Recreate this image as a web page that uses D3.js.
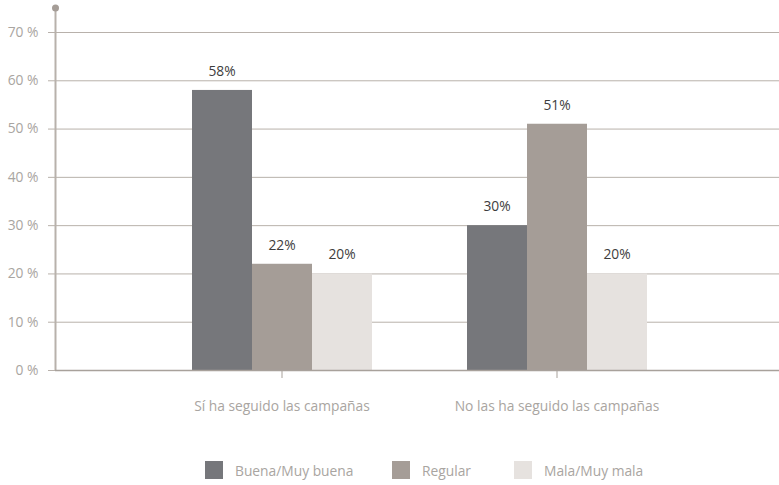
<!DOCTYPE html>
<html><head><meta charset="utf-8">
<script src="https://cdn.jsdelivr.net/npm/d3@7"></script>
<style>body{margin:0;background:#fff}svg{display:block}text{font-family:"Open Sans",sans-serif}</style>
</head><body><svg id="c" width="779" height="485"></svg>
<script>
const categories = ["Sí ha seguido las campañas", "No las ha seguido las campañas"];
const seriesNames = ["Buena/Muy buena", "Regular", "Mala/Muy mala"];
const buena = [58, 30];
const regular = [22, 51];
const mala = [20, 20];
const yTicks = [0, 10, 20, 30, 40, 50, 60, 70];
const colors = ["#76777b", "#a59d97", "#e6e2df"];
const series = [buena, regular, mala];

const svg = d3.select("#c");
const y = d3.scaleLinear().domain([0, 70]).range([370, 32]);
const x = d3.scaleBand().domain(categories).range([144.5, 694.5]);
const xs = d3.scaleBand().domain(seriesNames).range([0, 180]);
const gridColor = "#b8b1ab";
const fs = 13.8;

svg.append("g").selectAll("line").data(yTicks).join("line")
  .attr("x1", 48).attr("x2", 779).attr("y1", d => y(d) + 0.5).attr("y2", d => y(d) + 0.5)
  .attr("stroke", gridColor).attr("stroke-width", 1);
svg.append("g").selectAll("text").data(yTicks).join("text")
  .attr("x", 38.5).attr("y", d => y(d)).attr("dy", "0.35em").attr("text-anchor", "end")
  .attr("font-size", fs).attr("fill", "#a9a5a1").text(d => d + " %");

categories.forEach((c, ci) => {
  const g = svg.append("g").attr("transform", `translate(${x(c) + x.bandwidth() / 2 - 90},0)`);
  seriesNames.forEach((s, si) => {
    const v = series[si][ci];
    g.append("rect").attr("x", xs(s)).attr("width", xs.bandwidth())
      .attr("y", y(v)).attr("height", y(0) - y(v)).attr("fill", colors[si]);
    g.append("text").attr("x", xs(s) + xs.bandwidth() / 2).attr("y", y(v) - 14)
      .attr("text-anchor", "middle").attr("font-size", fs).attr("fill", "#3d3d3d").text(v + "%");
  });
});

svg.append("line").attr("x1", 55.5).attr("x2", 55.5).attr("y1", 8).attr("y2", 370)
  .attr("stroke", gridColor).attr("stroke-width", 2);
svg.append("circle").attr("cx", 55.5).attr("cy", 8).attr("r", 3.5).attr("fill", "#a59d97");
svg.append("line").attr("x1", 55).attr("x2", 779).attr("y1", 370.5).attr("y2", 370.5)
  .attr("stroke", "#a8a19b").attr("stroke-width", 1.5);
svg.append("g").selectAll("line").data(categories).join("line")
  .attr("x1", d => x(d) + x.bandwidth() / 2).attr("x2", d => x(d) + x.bandwidth() / 2)
  .attr("y1", 370).attr("y2", 378).attr("stroke", "#a8a19b");
svg.append("g").selectAll("text").data(categories).join("text")
  .attr("x", d => x(d) + x.bandwidth() / 2).attr("y", 411).attr("text-anchor", "middle")
  .attr("font-size", fs).attr("fill", "#a9a5a1").text(d => d);

const legX = [205, 392, 514];
seriesNames.forEach((s, i) => {
  svg.append("rect").attr("x", legX[i]).attr("y", 461).attr("width", 18).attr("height", 18).attr("fill", colors[i]);
  svg.append("text").attr("x", legX[i] + 30).attr("y", 475.5).attr("font-size", fs).attr("fill", "#a9a5a1").text(s);
});
</script></body></html>
